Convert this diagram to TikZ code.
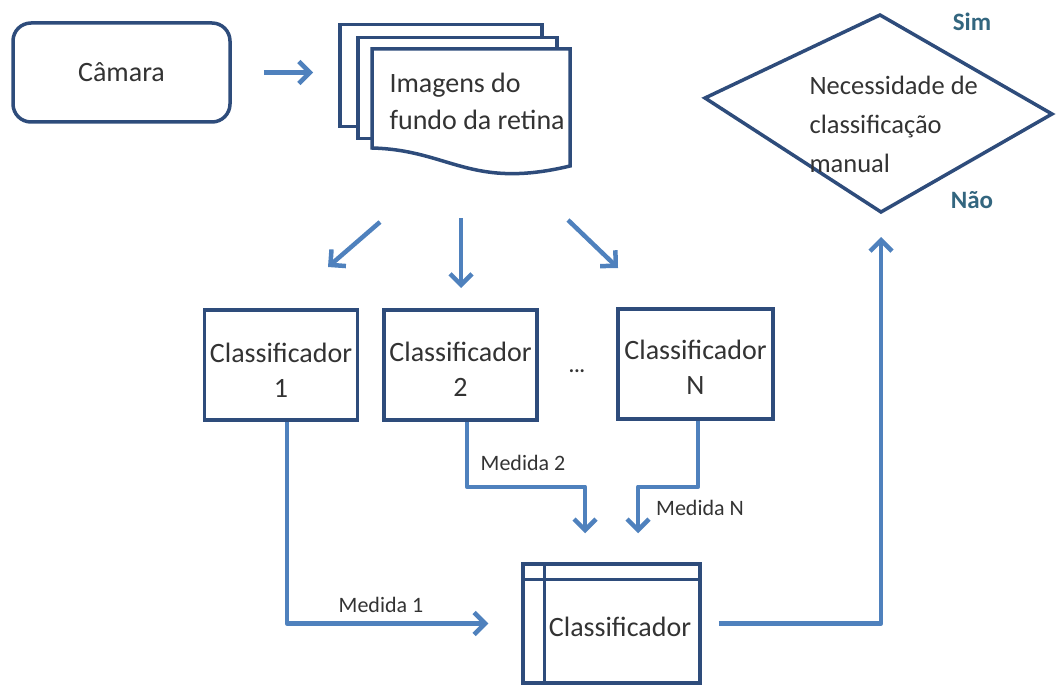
\documentclass[tikz,border=0pt]{standalone}
\usepackage{fontspec}
\setmainfont{Carlito}
\usetikzlibrary{arrows.meta,calc}
\definecolor{edge}{HTML}{2E4C7B}
\definecolor{flow}{HTML}{4F81BD}
\definecolor{ink}{HTML}{333333}
\definecolor{answer}{HTML}{33667F}
\begin{document}
\begin{tikzpicture}[x=1pt,y=-1pt,
  every node/.style={text=ink, font=\fontsize{28}{35}\selectfont},
  box/.style={draw=edge, line width=3.5pt, fill=white, inner sep=0pt},
  flowline/.style={draw=flow, line width=4.5pt, line join=round,
    -{Straight Barb[length=11pt,width=22pt]}},
  measure/.style={font=\fontsize{22}{26}\selectfont},
  reply/.style={text=answer, font=\fontsize{25}{28}\selectfont\bfseries}]
\useasboundingbox (0,0) rectangle (1056,687);

% camera
\node[box, rounded corners=18pt, minimum width=217pt, minimum height=99pt]
  (cam) at (121.5,72.5) {Câmara};

% stack of fundus images
\node[box, anchor=north west, minimum width=202pt, minimum height=102pt] (pageback) at (338,23) {};
\node[box, anchor=north west, minimum width=199pt, minimum height=101pt] (pagemid) at (356,36) {};
\draw[box] (372,49) -- (570,49) -- (570,166)
  .. controls (470,190) and (450,150) .. (372,148) -- cycle;
\node[anchor=west, align=left, font=\fontsize{28}{37}\selectfont] (docs) at (386,101)
  {Imagens do\\fundo da retina};

\draw[flowline, shorten <=32pt, shorten >=25pt] (cam.east) -- (cam.east -| pageback.west);

% decision
\coordinate (dl) at (705,98);
\coordinate (dt) at (880,15);
\coordinate (dr) at (1052,114);
\coordinate (db) at (881,212);
\draw[draw=edge, line width=3.5pt, line join=miter] (dl) -- (dt) -- (dr) -- (db) -- cycle;
\node[anchor=west, align=left, font=\fontsize{26.5}{39}\selectfont] (dtext) at (806,124)
  {Necessidade de\\classificação\\manual};
\node[reply] (yes) at (972,22) {Sim};
\node[reply] (no) at (972,200) {Não};

% individual classifiers
\node[box, minimum width=153pt, minimum height=110pt] (c1) at (281,365) {};
\node[box, minimum width=153pt, minimum height=110pt] (c2) at (460.5,365) {};
\node[box, minimum width=155pt, minimum height=110pt] (cN) at (695.5,364) {};
\node[align=center] (c1t) at (281,370) {Classificador\\1};
\node[align=center] (c2t) at (460.5,369) {Classificador\\2};
\node[align=center] (cNt) at (695.5,367) {Classificador\\N};
\node[font=\fontsize{20}{24}\selectfont\bfseries] (dots) at (577,371) {...};

% arrows from the images to the classifiers
\coordinate (s1) at (380,222); \coordinate (e1) at (328,267);
\coordinate (s2) at (461,218); \coordinate (e2) at (461,288);
\coordinate (s3) at (568,220); \coordinate (e3) at (618,268);
\draw[flowline] (s1) -- (e1);
\draw[flowline] (s2) -- (e2);
\draw[flowline] (s3) -- (e3);

% final classifier
\node[box, minimum width=177pt, minimum height=119pt] (cls) at (611.5,623.5) {};
\draw[draw=edge, line width=3pt] ($(cls.north west)+(0,17)$) -- ($(cls.north east)+(0,17)$);
\draw[draw=edge, line width=3pt] ($(cls.north west)+(23,0)$) -- ($(cls.south west)+(23,0)$);
\node (clst) at (620,627) {Classificador};

% measures
\draw[flowline] ([xshift=6pt]c1.south) |- ([xshift=-33pt]cls.west);
\node[measure] (m1) at (381,605) {Medida 1};
\draw[flowline] ([xshift=6.5pt]c2.south) -- ([xshift=6.5pt,yshift=-65pt]c2.south)
  -| ([xshift=-26.5pt,yshift=29pt]cls.north);
\node[measure] (m2) at (523,463) {Medida 2};
\draw[flowline] ([xshift=2.5pt]cN.south) -- ([xshift=2.5pt,yshift=-66pt]cN.south)
  -| ([xshift=26.5pt,yshift=29pt]cls.north);
\node[measure] (mN) at (700,508) {Medida N};

% result to the decision
\draw[flowline] ([xshift=17pt]cls.east) -| ([yshift=-25pt]db);
\end{tikzpicture}
\end{document}
